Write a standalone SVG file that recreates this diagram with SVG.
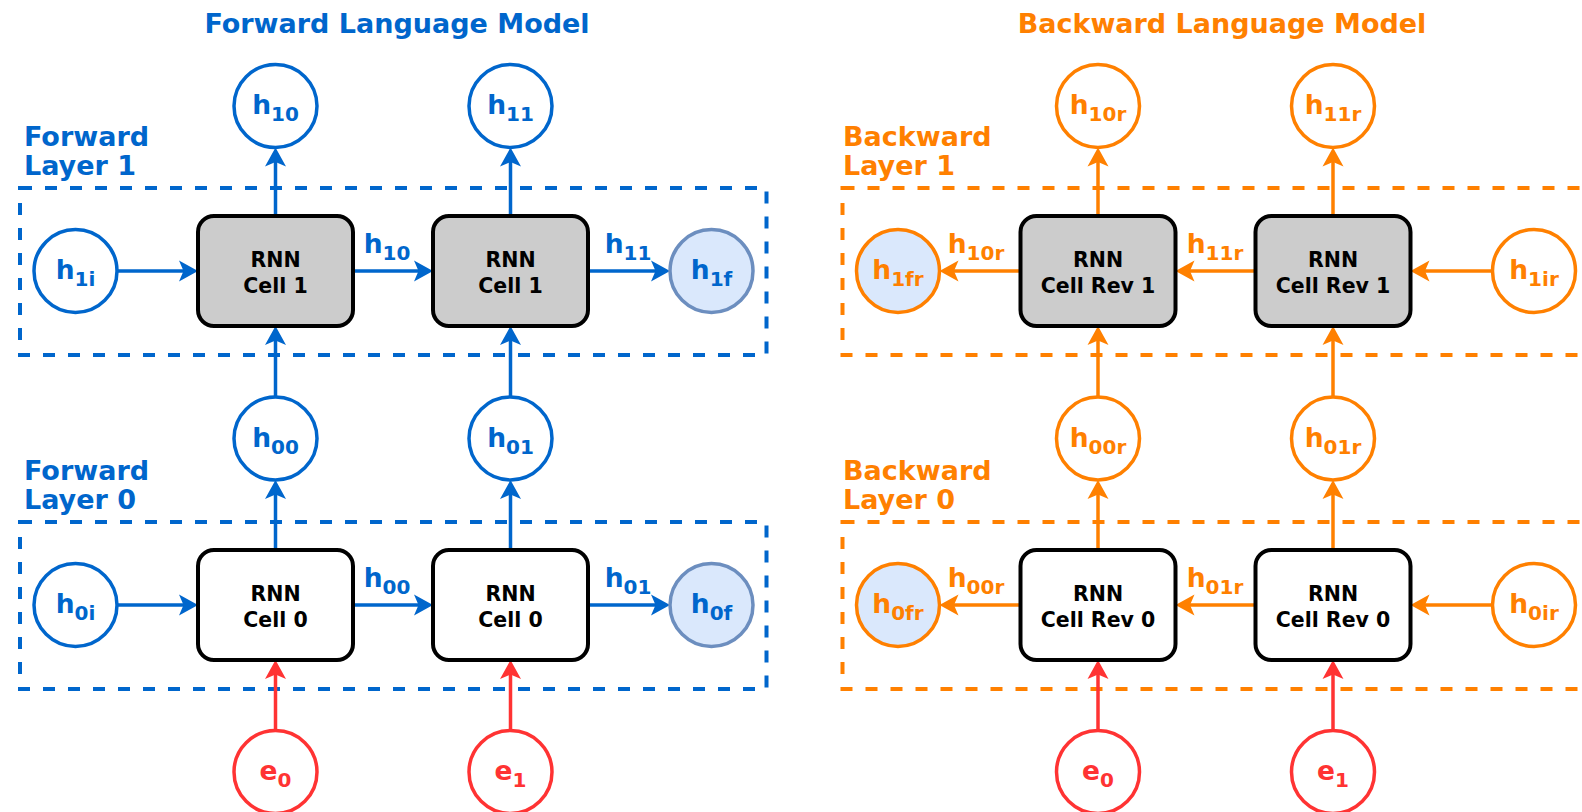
<svg xmlns="http://www.w3.org/2000/svg" width="1582" height="812" viewBox="0 0 1582 812">
  <style>
    text { font-family: "DejaVu Sans", Verdana, sans-serif; font-weight: bold; }
    .title { font-size: 27px; text-anchor: middle; }
    .layer { font-size: 27px; }
    .blue { fill: #0066CC; }
    .orange { fill: #FF8000; }
    .red { fill: #FF3333; }
    .frame { fill: none; stroke-width: 4; stroke-dasharray: 12 13; }
    .frame.b { stroke: #0066CC; }
    .frame.o { stroke: #FF8000; }
    .node { stroke-width: 3.5; }
    .nb { fill: #FFFFFF; stroke: #0066CC; }
    .no { fill: #FFFFFF; stroke: #FF8000; }
    .nr { fill: #FFFFFF; stroke: #FF3333; }
    .fb { fill: #DAE8FC; stroke: #6C8EBF; }
    .fo { fill: #DAE8FC; stroke: #FF8000; }
    .cell { stroke: #000000; stroke-width: 4; }
    .c1 { fill: #CCCCCC; }
    .c0 { fill: #FFFFFF; }
    .ct { font-size: 20.5px; text-anchor: middle; fill: #000000; }
    .nl { font-size: 26.5px; text-anchor: middle; }
    .sub { font-size: 20px; }
    .al { font-size: 26.5px; text-anchor: middle; }
    .ab { stroke: #0066CC; stroke-width: 3.5; fill: none; marker-end: url(#arrB); }
    .ao { stroke: #FF8000; stroke-width: 3.5; fill: none; marker-end: url(#arrO); }
    .ar { stroke: #FF3333; stroke-width: 3.5; fill: none; marker-end: url(#arrR); }
  </style>
  <defs>
    <marker id="arrB" markerUnits="userSpaceOnUse" orient="auto" refX="13" refY="0" markerWidth="20" markerHeight="22" overflow="visible">
      <path d="M0,-10.5 L19,0 L0,10.5 L4.5,0 Z" fill="#0066CC"/>
    </marker>
    <marker id="arrO" markerUnits="userSpaceOnUse" orient="auto" refX="13" refY="0" markerWidth="20" markerHeight="22" overflow="visible">
      <path d="M0,-10.5 L19,0 L0,10.5 L4.5,0 Z" fill="#FF8000"/>
    </marker>
    <marker id="arrR" markerUnits="userSpaceOnUse" orient="auto" refX="13" refY="0" markerWidth="20" markerHeight="22" overflow="visible">
      <path d="M0,-10.5 L19,0 L0,10.5 L4.5,0 Z" fill="#FF3333"/>
    </marker>
  </defs>

  <!-- headings and layer captions -->
  <g id="titles">
    <text class="title blue" x="397" y="33">Forward Language Model</text>
    <text class="title orange" x="1222" y="33">Backward Language Model</text>
    <text class="layer blue" x="24" y="146">Forward</text>
    <text class="layer blue" x="24" y="175">Layer 1</text>
    <text class="layer blue" x="24" y="480">Forward</text>
    <text class="layer blue" x="24" y="509">Layer 0</text>
    <text class="layer orange" x="843" y="146">Backward</text>
    <text class="layer orange" x="843" y="175">Layer 1</text>
    <text class="layer orange" x="843" y="480">Backward</text>
    <text class="layer orange" x="843" y="509">Layer 0</text>
  </g>

  <!-- dashed layer frames -->
  <g id="frames">
    <rect class="frame b" x="20" y="188" width="746.5" height="167"/>
    <rect class="frame b" x="20" y="522" width="746.5" height="167"/>
    <rect class="frame o" x="842.5" y="188" width="746.5" height="167"/>
    <rect class="frame o" x="842.5" y="522" width="746.5" height="167"/>
  </g>

  <!-- connectors -->
  <g id="connectors">
    <!-- forward layer 1 -->
    <line class="ab" x1="117" y1="271" x2="192" y2="271"/>
    <line class="ab" x1="353" y1="271" x2="427" y2="271"/>
    <line class="ab" x1="588" y1="271" x2="664" y2="271"/>
    <line class="ab" x1="275.5" y1="216" x2="275.5" y2="153.5"/>
    <line class="ab" x1="510.5" y1="216" x2="510.5" y2="153.5"/>
    <line class="ab" x1="275.5" y1="397" x2="275.5" y2="332"/>
    <line class="ab" x1="510.5" y1="397" x2="510.5" y2="332"/>
    <!-- forward layer 0 -->
    <line class="ab" x1="117" y1="605" x2="192" y2="605"/>
    <line class="ab" x1="353" y1="605" x2="427" y2="605"/>
    <line class="ab" x1="588" y1="605" x2="664" y2="605"/>
    <line class="ab" x1="275.5" y1="550" x2="275.5" y2="486"/>
    <line class="ab" x1="510.5" y1="550" x2="510.5" y2="486"/>
    <line class="ar" x1="275.5" y1="730.5" x2="275.5" y2="666"/>
    <line class="ar" x1="510.5" y1="730.5" x2="510.5" y2="666"/>
    <!-- backward layer 1 -->
    <line class="ao" x1="1492.5" y1="271" x2="1416.5" y2="271"/>
    <line class="ao" x1="1255.5" y1="271" x2="1181.5" y2="271"/>
    <line class="ao" x1="1020.5" y1="271" x2="945.5" y2="271"/>
    <line class="ao" x1="1098" y1="216" x2="1098" y2="153.5"/>
    <line class="ao" x1="1333" y1="216" x2="1333" y2="153.5"/>
    <line class="ao" x1="1098" y1="397" x2="1098" y2="332"/>
    <line class="ao" x1="1333" y1="397" x2="1333" y2="332"/>
    <!-- backward layer 0 -->
    <line class="ao" x1="1492.5" y1="605" x2="1416.5" y2="605"/>
    <line class="ao" x1="1255.5" y1="605" x2="1181.5" y2="605"/>
    <line class="ao" x1="1020.5" y1="605" x2="945.5" y2="605"/>
    <line class="ao" x1="1098" y1="550" x2="1098" y2="486"/>
    <line class="ao" x1="1333" y1="550" x2="1333" y2="486"/>
    <line class="ar" x1="1098" y1="730.5" x2="1098" y2="666"/>
    <line class="ar" x1="1333" y1="730.5" x2="1333" y2="666"/>
  </g>

  <!-- connector labels -->
  <g id="edge-labels">
    <text class="al blue" x="387" y="253">h<tspan class="sub" dy="7">10</tspan></text>
    <text class="al blue" x="628" y="253">h<tspan class="sub" dy="7">11</tspan></text>
    <text class="al blue" x="387" y="587">h<tspan class="sub" dy="7">00</tspan></text>
    <text class="al blue" x="628" y="587">h<tspan class="sub" dy="7">01</tspan></text>
    <text class="al orange" x="976" y="253">h<tspan class="sub" dy="7">10r</tspan></text>
    <text class="al orange" x="1215" y="253">h<tspan class="sub" dy="7">11r</tspan></text>
    <text class="al orange" x="976" y="587">h<tspan class="sub" dy="7">00r</tspan></text>
    <text class="al orange" x="1215" y="587">h<tspan class="sub" dy="7">01r</tspan></text>
  </g>

  <!-- forward model nodes -->
  <g id="f-h10"><circle class="node nb" cx="275.5" cy="106" r="41.5"/><text class="nl blue" x="275.5" y="114">h<tspan class="sub" dy="7">10</tspan></text></g>
  <g id="f-h11"><circle class="node nb" cx="510.5" cy="106" r="41.5"/><text class="nl blue" x="510.5" y="114">h<tspan class="sub" dy="7">11</tspan></text></g>
  <g id="f-h1i"><circle class="node nb" cx="75.5" cy="271" r="41.5"/><text class="nl blue" x="75.5" y="279">h<tspan class="sub" dy="7">1i</tspan></text></g>
  <g id="f-cell1a"><rect class="cell c1" x="198" y="216" width="155" height="110" rx="16"/><text class="ct" x="275.5" y="267">RNN</text><text class="ct" x="275.5" y="293">Cell 1</text></g>
  <g id="f-cell1b"><rect class="cell c1" x="433" y="216" width="155" height="110" rx="16"/><text class="ct" x="510.5" y="267">RNN</text><text class="ct" x="510.5" y="293">Cell 1</text></g>
  <g id="f-h1f"><circle class="node fb" cx="711.5" cy="271" r="41.5"/><text class="nl blue" x="711.5" y="279">h<tspan class="sub" dy="7">1f</tspan></text></g>
  <g id="f-h00"><circle class="node nb" cx="275.5" cy="438.5" r="41.5"/><text class="nl blue" x="275.5" y="446.5">h<tspan class="sub" dy="7">00</tspan></text></g>
  <g id="f-h01"><circle class="node nb" cx="510.5" cy="438.5" r="41.5"/><text class="nl blue" x="510.5" y="446.5">h<tspan class="sub" dy="7">01</tspan></text></g>
  <g id="f-h0i"><circle class="node nb" cx="75.5" cy="605" r="41.5"/><text class="nl blue" x="75.5" y="613">h<tspan class="sub" dy="7">0i</tspan></text></g>
  <g id="f-cell0a"><rect class="cell c0" x="198" y="550" width="155" height="110" rx="16"/><text class="ct" x="275.5" y="601">RNN</text><text class="ct" x="275.5" y="627">Cell 0</text></g>
  <g id="f-cell0b"><rect class="cell c0" x="433" y="550" width="155" height="110" rx="16"/><text class="ct" x="510.5" y="601">RNN</text><text class="ct" x="510.5" y="627">Cell 0</text></g>
  <g id="f-h0f"><circle class="node fb" cx="711.5" cy="605" r="41.5"/><text class="nl blue" x="711.5" y="613">h<tspan class="sub" dy="7">0f</tspan></text></g>
  <g id="f-e0"><circle class="node nr" cx="275.5" cy="772" r="41.5"/><text class="nl red" x="275.5" y="780">e<tspan class="sub" dy="7">0</tspan></text></g>
  <g id="f-e1"><circle class="node nr" cx="510.5" cy="772" r="41.5"/><text class="nl red" x="510.5" y="780">e<tspan class="sub" dy="7">1</tspan></text></g>

  <!-- backward model nodes -->
  <g id="b-h10r"><circle class="node no" cx="1098" cy="106" r="41.5"/><text class="nl orange" x="1098" y="114">h<tspan class="sub" dy="7">10r</tspan></text></g>
  <g id="b-h11r"><circle class="node no" cx="1333" cy="106" r="41.5"/><text class="nl orange" x="1333" y="114">h<tspan class="sub" dy="7">11r</tspan></text></g>
  <g id="b-h1fr"><circle class="node fo" cx="898" cy="271" r="41.5"/><text class="nl orange" x="898" y="279">h<tspan class="sub" dy="7">1fr</tspan></text></g>
  <g id="b-cell1a"><rect class="cell c1" x="1020.5" y="216" width="155" height="110" rx="16"/><text class="ct" x="1098" y="267">RNN</text><text class="ct" x="1098" y="293">Cell Rev 1</text></g>
  <g id="b-cell1b"><rect class="cell c1" x="1255.5" y="216" width="155" height="110" rx="16"/><text class="ct" x="1333" y="267">RNN</text><text class="ct" x="1333" y="293">Cell Rev 1</text></g>
  <g id="b-h1ir"><circle class="node no" cx="1534" cy="271" r="41.5"/><text class="nl orange" x="1534" y="279">h<tspan class="sub" dy="7">1ir</tspan></text></g>
  <g id="b-h00r"><circle class="node no" cx="1098" cy="438.5" r="41.5"/><text class="nl orange" x="1098" y="446.5">h<tspan class="sub" dy="7">00r</tspan></text></g>
  <g id="b-h01r"><circle class="node no" cx="1333" cy="438.5" r="41.5"/><text class="nl orange" x="1333" y="446.5">h<tspan class="sub" dy="7">01r</tspan></text></g>
  <g id="b-h0fr"><circle class="node fo" cx="898" cy="605" r="41.5"/><text class="nl orange" x="898" y="613">h<tspan class="sub" dy="7">0fr</tspan></text></g>
  <g id="b-cell0a"><rect class="cell c0" x="1020.5" y="550" width="155" height="110" rx="16"/><text class="ct" x="1098" y="601">RNN</text><text class="ct" x="1098" y="627">Cell Rev 0</text></g>
  <g id="b-cell0b"><rect class="cell c0" x="1255.5" y="550" width="155" height="110" rx="16"/><text class="ct" x="1333" y="601">RNN</text><text class="ct" x="1333" y="627">Cell Rev 0</text></g>
  <g id="b-h0ir"><circle class="node no" cx="1534" cy="605" r="41.5"/><text class="nl orange" x="1534" y="613">h<tspan class="sub" dy="7">0ir</tspan></text></g>
  <g id="b-e0"><circle class="node nr" cx="1098" cy="772" r="41.5"/><text class="nl red" x="1098" y="780">e<tspan class="sub" dy="7">0</tspan></text></g>
  <g id="b-e1"><circle class="node nr" cx="1333" cy="772" r="41.5"/><text class="nl red" x="1333" y="780">e<tspan class="sub" dy="7">1</tspan></text></g>
</svg>
